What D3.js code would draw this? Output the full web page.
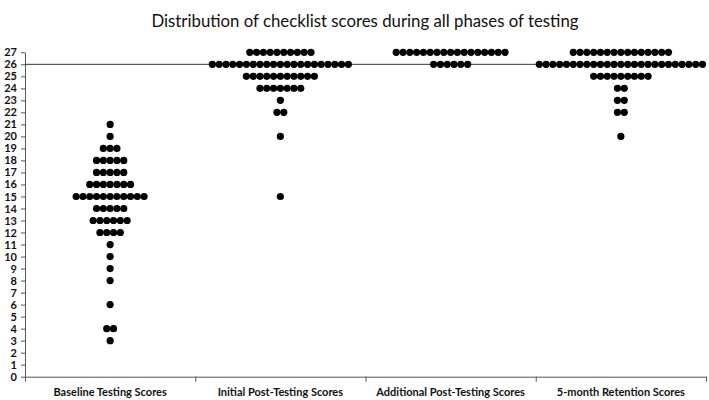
<!DOCTYPE html>
<html>
<head>
<meta charset="utf-8">
<script src="https://cdn.jsdelivr.net/npm/d3@7"></script>
<style>
  body { margin: 0; background: #fff; }
  svg { display: block; }
  text { font-family: Lato, 'Open Sans', sans-serif; }
</style>
</head>
<body>
<svg id="chart" width="709" height="400"></svg>
<script>
// phases on the x axis
const phases = ['Baseline Testing Scores', 'Initial Post-Testing Scores', 'Additional Post-Testing Scores', '5-month Retention Scores']

// [score, number of participants] for each phase
const baselineCounts = [[21, 1], [20, 1], [19, 3], [18, 5], [17, 5], [16, 7], [15, 11], [14, 5], [13, 6], [12, 4], [11, 1], [10, 1], [9, 1], [8, 1], [6, 1], [4, 2], [3, 1]]
const initialCounts = [[27, 10], [26, 21], [25, 11], [24, 7], [23, 1], [22, 2], [20, 1], [15, 1]]
const additionalCounts = [[27, 17], [26, 6]]
const retentionCounts = [[27, 15], [26, 25], [25, 9], [24, 2], [23, 2], [22, 2], [20, 1]]

const yTicks = d3.range(0, 28)
const targetScore = 26
const chartTitle = 'Distribution of checklist scores during all phases of testing'

const allCounts = [baselineCounts, initialCounts, additionalCounts, retentionCounts]

const svg = d3.select('#chart')
const left = 25
const right = 706
const dotStep = 6.8
const dotR = 3.6

const x = d3.scaleBand().domain(phases).range([left, right]).paddingInner(0)
const xEdge = d3.scaleLinear().domain([0, phases.length]).range([left, right])
const y = d3.scaleLinear().domain([0, 27]).range([376.7, 52.3])

svg.append('text')
  .attr('x', 365)
  .attr('y', 27)
  .attr('text-anchor', 'middle')
  .style('font-size', '16.8px')
  .attr('fill', '#111')
  .text(chartTitle)

// y axis
const yAxis = svg.append('g')
  .attr('transform', `translate(${left},0)`)
  .call(d3.axisLeft(y).tickValues(yTicks).tickSize(4).tickSizeOuter(0).tickPadding(4))
yAxis.selectAll('text').style('font-size', '11px').style('font-weight', 'bold').attr('fill', '#111')
yAxis.selectAll('line, path').attr('stroke', '#555')

// x axis, ticks on the band edges
const xAxis = svg.append('g')
  .attr('transform', `translate(0,${y(0)})`)
  .call(d3.axisBottom(xEdge).tickValues(d3.range(0, phases.length + 1)).tickFormat('').tickSize(5).tickSizeOuter(0))
xAxis.selectAll('line, path').attr('stroke', '#555')

svg.append('g')
  .selectAll('text')
  .data(phases)
  .join('text')
  .attr('x', d => x(d) + x.bandwidth() / 2)
  .attr('y', 396)
  .attr('text-anchor', 'middle')
  .style('font-size', '11px')
  .style('font-weight', 'bold')
  .attr('fill', '#111')
  .text(d => d)

// target line at 26
svg.append('line')
  .attr('x1', left)
  .attr('x2', right)
  .attr('y1', y(targetScore))
  .attr('y2', y(targetScore))
  .attr('stroke', '#333')
  .attr('stroke-width', 1)

// dots, stacked side by side around the phase centre
const dots = []
allCounts.forEach((counts, p) => {
  const cx = x(phases[p]) + x.bandwidth() / 2
  counts.forEach(([score, n]) => {
    for (let i = 0; i < n; i++) {
      dots.push({ x: cx + (i - (n - 1) / 2) * dotStep, score })
    }
  })
})

svg.append('g')
  .selectAll('circle')
  .data(dots)
  .join('circle')
  .attr('cx', d => d.x)
  .attr('cy', d => y(d.score))
  .attr('r', dotR)
  .attr('fill', '#000')
</script>
</body>
</html>
